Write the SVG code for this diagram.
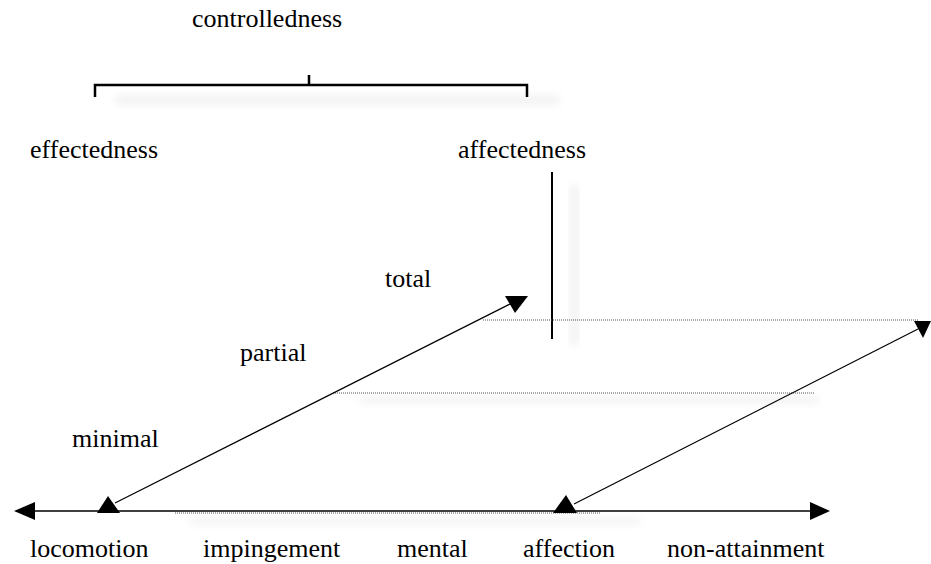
<svg xmlns="http://www.w3.org/2000/svg" width="931" height="564" viewBox="0 0 931 564">
<defs>
<filter id="blur" x="-20%" y="-200%" width="140%" height="500%"><feGaussianBlur stdDeviation="4"/></filter>
<style>
.t{font-family:"Liberation Serif","Times New Roman",serif;font-size:26px;fill:#000}
.ln{stroke:#000;fill:none}
.dot{stroke:#555;stroke-width:1;stroke-dasharray:1 1;fill:none}
.sh{fill:#000;opacity:0.06;filter:url(#blur)}
.ah{fill:#000}
</style>
</defs>
<g id="shadows">
<rect class="sh" x="115" y="96" width="445" height="8"/>
<rect class="sh" x="570" y="185" width="8" height="160"/>
<rect class="sh" x="360" y="397" width="460" height="6"/>
<rect class="sh" x="190" y="518" width="450" height="6"/>
</g>
<g id="controlledness"><text class="t" x="192" y="27">controlledness</text></g>
<g id="effectedness"><text class="t" x="30" y="158">effectedness</text></g>
<g id="affectedness"><text class="t" x="458" y="158">affectedness</text></g>
<g id="total"><text class="t" x="385" y="287">total</text></g>
<g id="partial"><text class="t" x="240" y="361">partial</text></g>
<g id="minimal"><text class="t" x="72" y="447">minimal</text></g>
<g id="locomotion"><text class="t" x="30" y="557">locomotion</text></g>
<g id="impingement"><text class="t" x="203" y="557">impingement</text></g>
<g id="mental"><text class="t" x="397" y="557">mental</text></g>
<g id="affection"><text class="t" x="523" y="557">affection</text></g>
<g id="non-attainment"><text class="t" x="667" y="557">non-attainment</text></g>
<g id="connectors">
<path class="ln" stroke-width="2.5" d="M95,97 V85 H527 V97 M309,75 V85"/>
<line class="ln" stroke-width="2" x1="552" y1="172" x2="552" y2="339"/>
<line class="dot" x1="483" y1="320" x2="918" y2="320"/>
<line class="dot" x1="333" y1="393" x2="815" y2="393"/>
<line class="dot" x1="175" y1="513" x2="600" y2="513"/>
<line class="ln" stroke-width="1.5" x1="30" y1="511" x2="812" y2="511"/>
<polygon class="ah" points="14,511 35,502 35,520"/>
<polygon class="ah" points="830,511 810,502 810,520"/>
<line class="ln" stroke-width="1.2" x1="115" y1="503" x2="512" y2="303"/>
<polygon class="ah" points="505,296 528,296 515,313"/>
<polygon class="ah" points="97,513 120,513 108,496"/>
<line class="ln" stroke-width="1.2" x1="574" y1="504" x2="918" y2="329"/>
<polygon class="ah" points="553,513 577,513 566,495"/>
<polygon class="ah" points="914,321 931,321 923,338"/>
</g>
</svg>
